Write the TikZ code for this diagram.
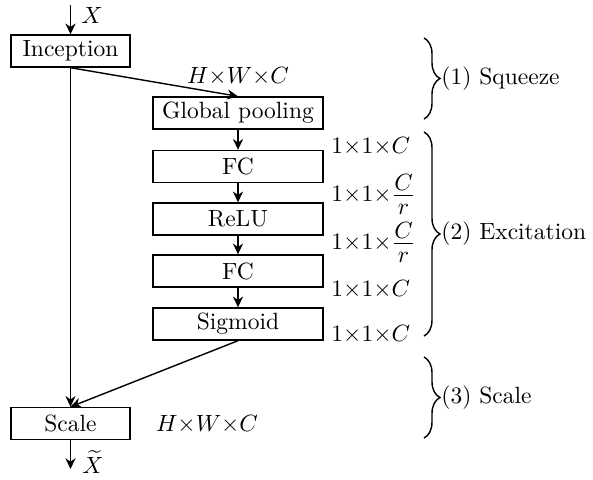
\documentclass[tikz,border=0pt]{standalone}
\usepackage{amsmath}
\usetikzlibrary{arrows.meta,decorations.pathreplacing}
\newcommand{\Cr}{\frac{\textstyle\rule[-1.6pt]{0pt}{1.6pt}C}{\textstyle\rule{0pt}{7.4pt}r}}
\begin{document}
\begin{tikzpicture}[x=0.4255pt,y=-0.4255pt,
  blk/.style={draw,semithick,inner sep=0pt,minimum height=13.6pt},
  narrowblk/.style={blk,minimum width=50.6pt},
  wideblk/.style={blk,minimum width=72.3pt},
  arr/.style={semithick,-{Stealth[length=4.6pt,width=4.3pt]}},
  brc/.style={semithick,decorate,decoration={brace,amplitude=6.8pt}},
  dim/.style={anchor=west,inner sep=0pt}]
\useasboundingbox (0,0) rectangle (593,479);
\node[narrowblk] (inc) at (70.5,51) {Inception};
\node[wideblk] (gp) at (238,113) {Global pooling};
\node[wideblk] (fc1) at (238,166.5) {FC};
\node[wideblk] (relu) at (238,219) {ReLU};
\node[wideblk] (fc2) at (238,271) {FC};
\node[wideblk] (sig) at (238,324) {Sigmoid};
\node[narrowblk] (scl) at (70.5,423.5) {Scale};
\coordinate (in) at (70.5,5);
\coordinate (out) at (70.5,469);
\draw[arr] (in) -- (inc);
\node[dim] (xl) at (81,15) {$X$};
\draw[arr] (inc.south) -- (gp.north);
\node[inner sep=0pt] (hwc1) at (238,76) {$H{\times}W{\times}C$};
\draw[arr] (gp) -- (fc1);
\draw[arr] (fc1) -- (relu);
\draw[arr] (relu) -- (fc2);
\draw[arr] (fc2) -- (sig);
\draw[arr] (inc.south) -- (scl.north);
\draw[arr] (sig.south) -- (scl.north);
\draw[arr] (scl) -- (out);
\node[dim] (xt) at (82,462) {$\widetilde{X}$};
\node[inner sep=0pt] (hwc2) at (207,424) {$H{\times}W{\times}C$};
\node[dim] (d1) at (331,146) {$1{\times}1{\times}C$};
\node[dim] (d2) at (331,194) {$1{\times}1{\times}\Cr$};
\node[dim] (d3) at (331,242) {$1{\times}1{\times}\Cr$};
\node[dim] (d4) at (331,289) {$1{\times}1{\times}C$};
\node[dim] (d5) at (331,334) {$1{\times}1{\times}C$};
\coordinate (b1a) at (424,38);
\coordinate (b1b) at (424,119);
\coordinate (b2a) at (424,132);
\coordinate (b2b) at (424,336);
\coordinate (b3a) at (424,357);
\coordinate (b3b) at (424,438);
\draw[brc] (b1a) -- (b1b);
\draw[brc] (b2a) -- (b2b);
\draw[brc] (b3a) -- (b3b);
\node[dim] (t1) at (441,78.5) {(1) Squeeze};
\node[dim] (t2) at (441,234) {(2) Excitation};
\node[dim] (t3) at (441,397.5) {(3) Scale};
\end{tikzpicture}
\end{document}
